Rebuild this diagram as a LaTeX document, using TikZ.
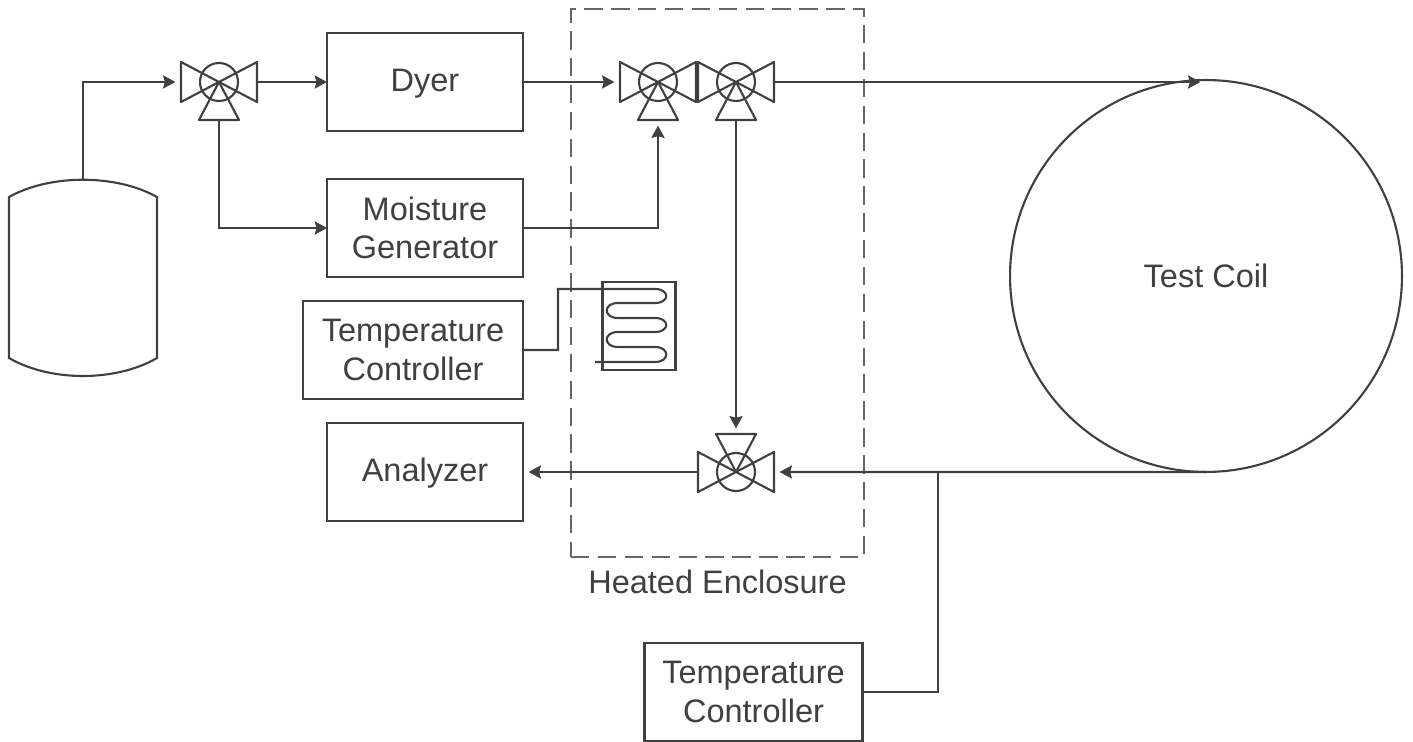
\documentclass[tikz,border=0pt]{standalone}
\usepackage{fontspec}
\setmainfont{Liberation Sans}
\usetikzlibrary{arrows.meta, positioning}

\tikzset{
  wire/.style={line width=1.2pt, draw=black!75},
  flow/.style={wire, -{Stealth[length=7pt, width=7.5pt, inset=1pt]}},
  toport/.style={flow, shorten >=3.2pt},
  box/.style={wire, align=center, minimum width=3.92cm, minimum height=1.96cm, inner sep=0pt, outer sep=0pt},
  pics/valve/.style={code={
    \draw[wire] (0,0) circle (19);
    \draw[wire, line join=round] (0,0) -- (-38,-20) -- (-38,20) -- cycle;
    \draw[wire, line join=round] (0,0) -- (38,-20) -- (38,20) -- cycle;
    \draw[wire, line join=round] (0,0) -- (-20,38) -- (20,38) -- cycle;
    \coordinate (-w) at (-38,0);
    \coordinate (-e) at (38,0);
    \coordinate (-s) at (0,38);
  }}
}

\begin{document}
\begin{tikzpicture}[x=0.02cm, y=-0.02cm, font=\fontsize{18.5}{21.8}\selectfont, text=black!75]
    \useasboundingbox (0,0) rectangle (1413,742);
    % heated enclosure
    \node[wire, draw=black!60, line width=1.6pt, dash pattern=on 10.5pt off 4.8pt, minimum width=5.86cm, minimum height=10.96cm, inner sep=0pt, outer sep=0pt] (enclosure) at (717.5,283) {};
    \node[below=4pt of enclosure] (enclosurelabel) {Heated Enclosure};
    % tank
    \draw[wire] (9,197) .. controls (50,174) and (116,174) .. (157,197) -- (157,358)
      .. controls (116,382) and (50,382) .. (9,358) -- cycle;
    \coordinate (tanktop) at (83,180);
    % boxes
    \node[box, text depth=2pt] (dyer) at (425,82) {Dyer};
    \node[box] (moisture) at (425,228) {Moisture\\Generator};
    \node[box, minimum width=4.4cm] (ctrlone) at (413,350) {Temperature\\Controller};
    \node[box, text depth=2.8pt] (analyzer) at (425,472) {Analyzer};
    \node[box, minimum width=4.36cm] (ctrltwo) at (753.5,692) {Temperature\\Controller};
    \node[box, circle, minimum size=7.84cm] (coil) at (1206,276) {Test Coil};
    % heater
    \node[box, minimum width=1.46cm, minimum height=1.76cm] (heater) at (639,326) {};
    \draw[wire] (ctrlone.east) -- (558,350) -- (558,289) -- (655,289)
      .. controls (670,289) and (670,303) .. (655,303) -- (618,303)
      .. controls (603,303) and (603,318) .. (618,318) -- (655,318)
      .. controls (670,318) and (670,332) .. (655,332) -- (618,332)
      .. controls (603,332) and (603,347) .. (618,347) -- (655,347)
      .. controls (670,347) and (670,362) .. (655,362) -- (595,362);
    % valves
    \pic (vone) at (219,82) {valve};
    \pic (vtwo) at (658,82) {valve};
    \pic (vthree) at (736,82) {valve};
    \pic[yscale=-1] (vfour) at (736,472) {valve};
    % pipes
    \draw[toport] (tanktop) |- (vone-w);
    \draw[flow] (vone-e) -- (dyer.west);
    \draw[flow] (vone-s) |- (moisture.west);
    \draw[toport] (dyer.east) -- (vtwo-w);
    \draw[toport] (moisture.east) -| (vtwo-s);
    \draw[toport] (vthree-e) -- (vthree-e -| coil.north);
    \draw[toport] (vthree-s) -- (vfour-s);
    \draw[toport] (coil.south) -- (vfour-e);
    \draw[toport] (vfour-w) -- (analyzer.east);
    \draw[wire] (ctrltwo.east) -| (938,472);
  \end{tikzpicture}
\end{document}
